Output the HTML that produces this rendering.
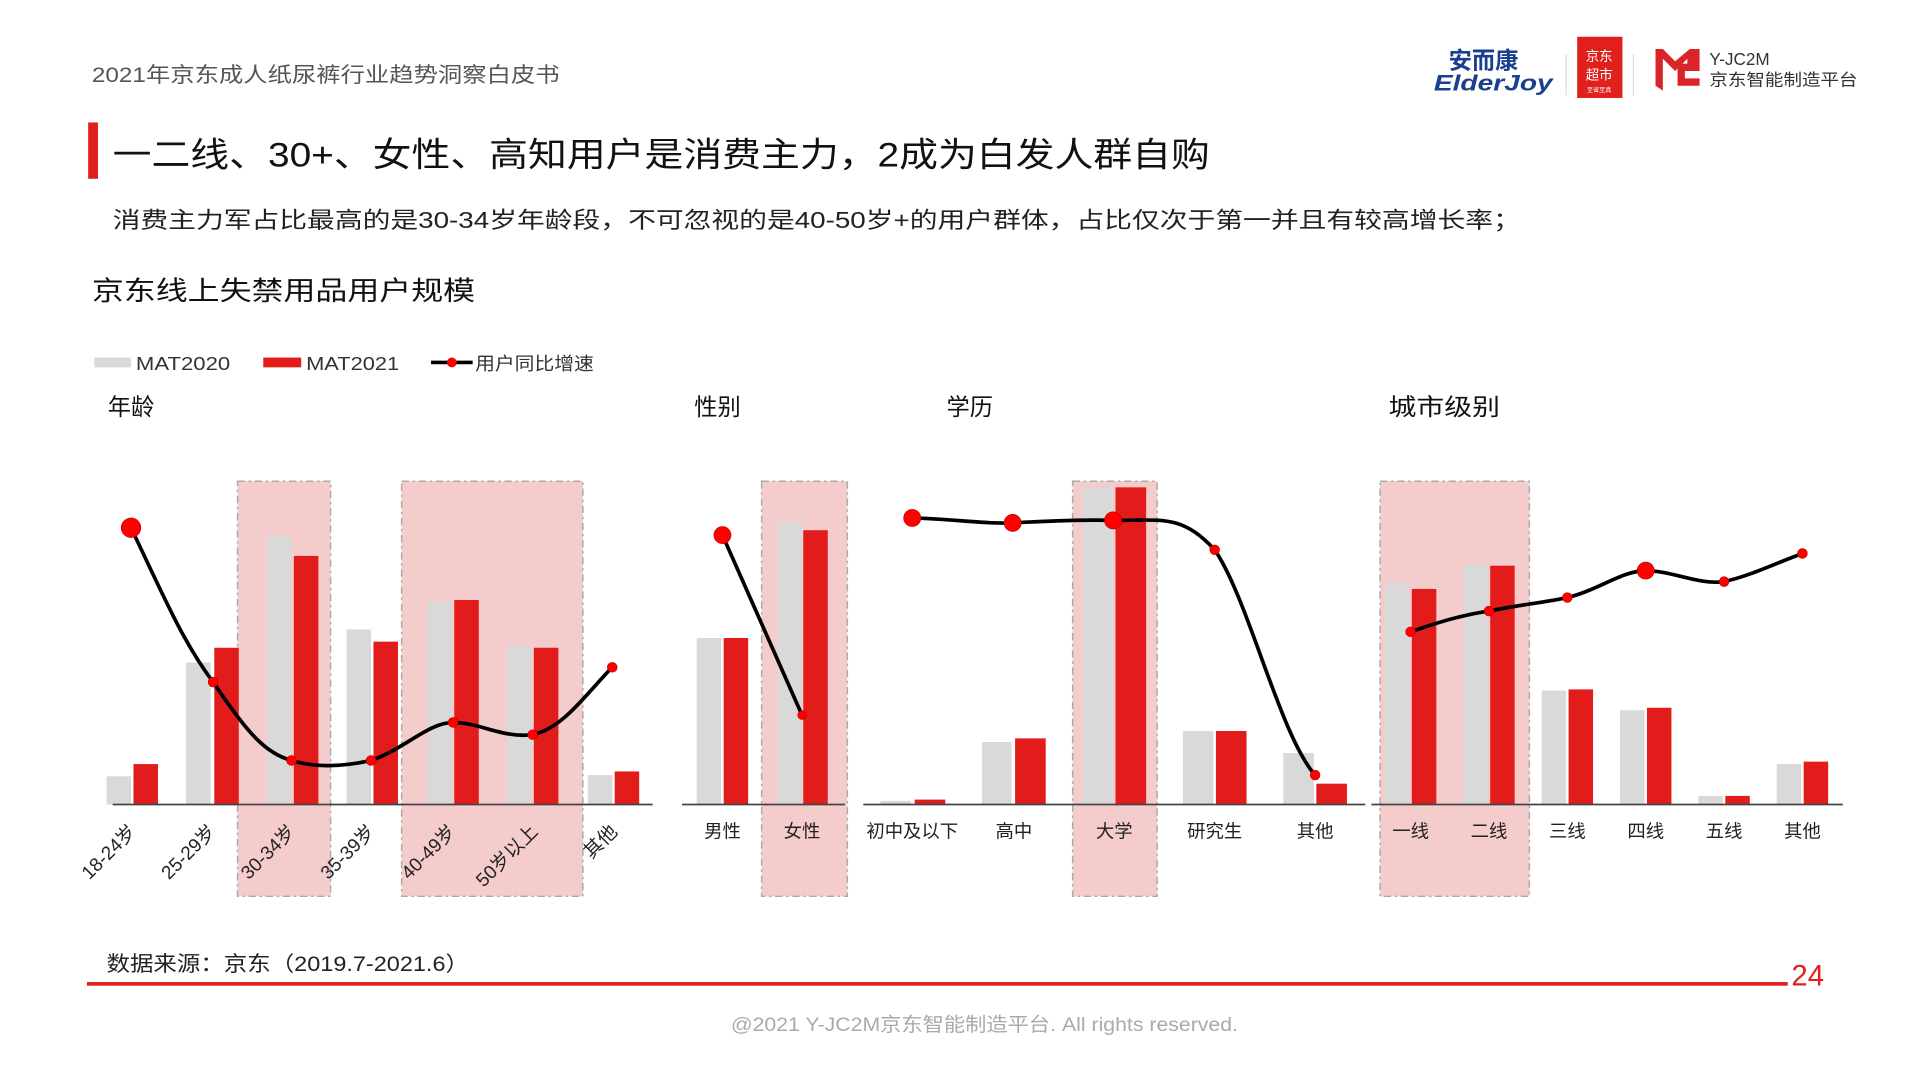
<!DOCTYPE html>
<html><head><meta charset="utf-8"><style>
html,body{margin:0;padding:0;background:#fff;}
svg{display:block;}
text{font-family:"Liberation Sans","Noto Sans CJK SC",sans-serif;}
</style></head><body>
<svg width="1920" height="1080" viewBox="0 0 1568 882" preserveAspectRatio="none" xmlns="http://www.w3.org/2000/svg">
<rect width="1568" height="882" fill="#fff"/>
<text x="75" y="67" font-size="17" fill="#555" textLength="382" lengthAdjust="spacingAndGlyphs">2021年京东成人纸尿裤行业趋势洞察白皮书</text>
<!-- logos -->
<text x="1183" y="56" font-size="19" font-weight="bold" fill="#1b3f8f">安而康</text>
<text x="1171" y="74" font-size="18" font-weight="bold" font-style="italic" fill="#1b3f8f" textLength="97" lengthAdjust="spacingAndGlyphs">ElderJoy</text>
<line x1="1279" y1="44" x2="1279" y2="78" stroke="#ddd"/>
<rect x="1288" y="30" width="37" height="50" fill="#e0201d"/>
<text x="1306" y="50" font-size="11" fill="#fff" text-anchor="middle">京东</text>
<text x="1306" y="65" font-size="11" fill="#fff" text-anchor="middle">超市</text>
<text x="1306" y="75" font-size="5" fill="#fff" text-anchor="middle">至省至真</text>
<line x1="1334" y1="44" x2="1334" y2="78" stroke="#ddd"/>
<path d="M1352 40 L1352 70 L1358 74 L1358 48 L1368 58 L1378 48 L1378 52 L1370 52 L1370 70 L1388 70 L1388 64 L1376 64 L1376 58 L1388 58 L1388 40 L1380 40 L1368 50 L1358 40 Z" fill="#d9252a"/>
<text x="1396" y="53" font-size="14" fill="#333">Y-JC2M</text>
<text x="1396" y="70" font-size="13.5" fill="#333" textLength="121" lengthAdjust="spacingAndGlyphs">京东智能制造平台</text>
<!-- title -->
<rect x="72" y="100" width="8" height="46" fill="#e0201d"/>
<text x="92" y="136" font-size="28" fill="#111" textLength="896" lengthAdjust="spacingAndGlyphs">一二线、30+、女性、高知用户是消费主力，2成为白发人群自购</text>
<text x="92" y="186" font-size="18.5" fill="#222" textLength="1150" lengthAdjust="spacingAndGlyphs">消费主力军占比最高的是30-34岁年龄段，不可忽视的是40-50岁+的用户群体，占比仅次于第一并且有较高增长率；</text>
<text x="75" y="245" font-size="22" fill="#111" textLength="313" lengthAdjust="spacingAndGlyphs">京东线上失禁用品用户规模</text>
<!-- legend -->
<rect x="77" y="292" width="30" height="8" fill="#d9d9d9"/>
<text x="111" y="302" font-size="15" fill="#333" textLength="77" lengthAdjust="spacingAndGlyphs">MAT2020</text>
<rect x="215" y="292" width="31" height="8" fill="#e21b1b"/>
<text x="250" y="302" font-size="15" fill="#333" textLength="76" lengthAdjust="spacingAndGlyphs">MAT2021</text>
<line x1="352" y1="296" x2="386" y2="296" stroke="#000" stroke-width="3"/>
<circle cx="369" cy="296" r="4" fill="#f00"/>
<text x="388" y="302" font-size="15" fill="#333" textLength="97" lengthAdjust="spacingAndGlyphs">用户同比增速</text>
<!-- section titles -->
<g font-size="19" fill="#111">
<text x="88" y="339">年龄</text><text x="567" y="339">性别</text><text x="773" y="339">学历</text><text x="1134" y="339" textLength="91" lengthAdjust="spacingAndGlyphs">城市级别</text>
</g>
<!-- highlight rects -->
<g fill="#f5cccc" stroke="#aaa" stroke-dasharray="6,3,2,3" stroke-width="1.2">
<rect x="194" y="393" width="76" height="339"/>
<rect x="328" y="393" width="148" height="339"/>
<rect x="622" y="393" width="70" height="339"/>
<rect x="876" y="393" width="69" height="339"/>
<rect x="1127" y="393" width="122" height="339"/>
</g>
<!-- bars -->
<g fill="#d9d9d9">
<rect x="87" y="634" width="20" height="23"/><rect x="152" y="541" width="20" height="116"/><rect x="218" y="438" width="20" height="219"/><rect x="283" y="514" width="20" height="143"/><rect x="349" y="491" width="20" height="166"/><rect x="414" y="527" width="20" height="130"/><rect x="480" y="633" width="20" height="24"/>
<rect x="569" y="521" width="20" height="136"/><rect x="635" y="426" width="20" height="231"/>
<rect x="719" y="654" width="25" height="3"/><rect x="802" y="606" width="24" height="51"/><rect x="884" y="398" width="25" height="259"/><rect x="966" y="597" width="25" height="60"/><rect x="1048" y="615" width="25" height="42"/>
<rect x="1131" y="476" width="20" height="181"/><rect x="1195" y="461" width="20" height="196"/><rect x="1259" y="564" width="20" height="93"/><rect x="1323" y="580" width="20" height="77"/><rect x="1387" y="650" width="20" height="7"/><rect x="1451" y="624" width="20" height="33"/>
</g>
<g fill="#e21b1b">
<rect x="109" y="624" width="20" height="33"/><rect x="175" y="529" width="20" height="128"/><rect x="240" y="454" width="20" height="203"/><rect x="305" y="524" width="20" height="133"/><rect x="371" y="490" width="20" height="167"/><rect x="436" y="529" width="20" height="128"/><rect x="502" y="630" width="20" height="27"/>
<rect x="591" y="521" width="20" height="136"/><rect x="656" y="433" width="20" height="224"/>
<rect x="747" y="653" width="25" height="4"/><rect x="829" y="603" width="25" height="54"/><rect x="911" y="398" width="25" height="259"/><rect x="993" y="597" width="25" height="60"/><rect x="1075" y="640" width="25" height="17"/>
<rect x="1153" y="481" width="20" height="176"/><rect x="1217" y="462" width="20" height="195"/><rect x="1281" y="563" width="20" height="94"/><rect x="1345" y="578" width="20" height="79"/><rect x="1409" y="650" width="20" height="7"/><rect x="1473" y="622" width="20" height="35"/>
</g>
<!-- axes -->
<g stroke="#444" stroke-width="1.5">
<line x1="92" y1="657" x2="533" y2="657"/><line x1="557" y1="657" x2="690" y2="657"/><line x1="705" y1="657" x2="1115" y2="657"/><line x1="1120" y1="657" x2="1505" y2="657"/>
</g>
<!-- lines -->
<g fill="none" stroke="#000" stroke-width="3">
<path d="M107 431 C135 490,150 525,174 557 C200 595,215 615,238 621 C260 628,285 625,303 621 C330 612,350 590,370 590 C392 590,410 603,435 600 C460 595,480 565,500 545"/>
<path d="M590 437 L655 584"/>
<path d="M745 423 C780 424,805 428,827 427 C850 426,880 424,909 425 C950 425,965 420,992 449 C1020 490,1045 600,1074 633"/>
<path d="M1152 516 C1175 508,1195 502,1216 499 C1240 494,1262 492,1280 488 C1305 482,1325 466,1344 466 C1365 466,1388 478,1408 475 C1430 470,1450 460,1472 452"/>
</g>
<g fill="#f00" stroke="#b00" stroke-width="0.5">
<circle cx="107" cy="431" r="8"/><circle cx="174" cy="557" r="4"/><circle cx="238" cy="621" r="4"/><circle cx="303" cy="621" r="4"/><circle cx="370" cy="590" r="4"/><circle cx="435" cy="600" r="4"/><circle cx="500" cy="545" r="4"/>
<circle cx="590" cy="437" r="7"/><circle cx="655" cy="584" r="3.5"/>
<circle cx="745" cy="423" r="7"/><circle cx="827" cy="427" r="7"/><circle cx="909" cy="425" r="7"/><circle cx="992" cy="449" r="4"/><circle cx="1074" cy="633" r="4"/>
<circle cx="1152" cy="516" r="4"/><circle cx="1216" cy="499" r="4"/><circle cx="1280" cy="488" r="4"/><circle cx="1344" cy="466" r="7"/><circle cx="1408" cy="475" r="4"/><circle cx="1472" cy="452" r="4"/>
</g>
<!-- category labels -->
<g font-size="15.5" fill="#222" text-anchor="end">
<text transform="translate(112,680) rotate(-45)">18-24岁</text>
<text transform="translate(177,680) rotate(-45)">25-29岁</text>
<text transform="translate(242,680) rotate(-45)">30-34岁</text>
<text transform="translate(307,680) rotate(-45)">35-39岁</text>
<text transform="translate(373,680) rotate(-45)">40-49岁</text>
<text transform="translate(440,680) rotate(-45)">50岁以上</text>
<text transform="translate(505,680) rotate(-45)">其他</text>
</g>
<g font-size="15" fill="#222" text-anchor="middle">
<text x="590" y="684">男性</text><text x="655" y="684">女性</text>
<text x="745" y="684">初中及以下</text><text x="828" y="684">高中</text><text x="910" y="684">大学</text><text x="992" y="684">研究生</text><text x="1074" y="684">其他</text>
<text x="1152" y="684">一线</text><text x="1216" y="684">二线</text><text x="1280" y="684">三线</text><text x="1344" y="684">四线</text><text x="1408" y="684">五线</text><text x="1472" y="684">其他</text>
</g>
<!-- footer -->
<text x="87" y="793" font-size="17" fill="#222" textLength="296" lengthAdjust="spacingAndGlyphs">数据来源：京东（2019.7-2021.6）</text>
<rect x="71" y="802" width="1389" height="3" fill="#e0201d"/>
<text x="1463" y="805" font-size="24" fill="#e0201d">24</text>
<text x="597" y="842" font-size="16" fill="#aaa" textLength="414" lengthAdjust="spacingAndGlyphs">@2021 Y-JC2M京东智能制造平台. All rights reserved.</text>
</svg>
</body></html>
